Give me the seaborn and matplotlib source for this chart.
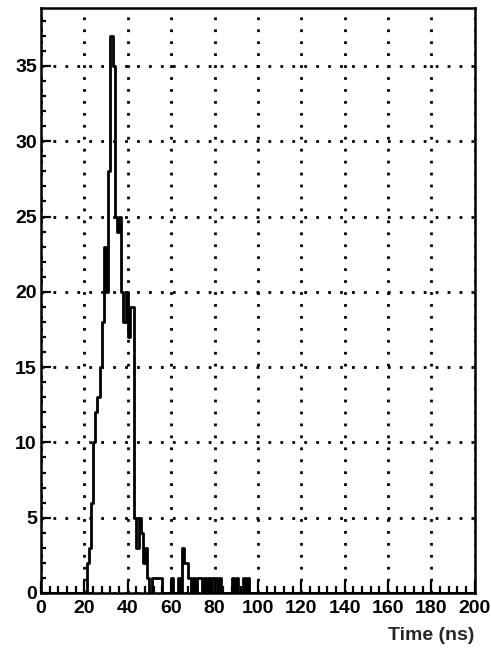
import matplotlib
matplotlib.use("Agg")  # headless
import matplotlib.pyplot as plt
import numpy as np
import pandas as pd
import seaborn as sns
from matplotlib.ticker import MultipleLocator

# ---------------------------------------------------------------------------
# Data: 1 ns bins from 0 to 200 ns, non-zero part
# ---------------------------------------------------------------------------
BIN_WIDTH = 1.0
X_RANGE = (0, 200)
FIRST_BIN = 20  # lower edge of the first listed bin (ns)
COUNTS = [
    0, 2, 3, 6, 10, 12, 13, 15, 18, 23,    # 20-29
    20, 28, 37, 35, 25, 24, 25, 20, 18, 20,  # 30-39
    17, 19, 19, 5, 3, 5, 4, 2, 3, 1,        # 40-49
    0, 1, 1, 1, 1, 1, 0, 0, 0, 0,           # 50-59
    1, 0, 0, 1, 0, 3, 2, 2, 1, 0,           # 60-69
    1, 0, 1, 1, 0, 1, 0, 1, 0, 1,           # 70-79
    1, 0, 1, 0, 0, 0, 0, 0, 1, 0,           # 80-89
    1, 0, 0, 1, 0, 1, 0, 0, 0, 0,           # 90-99
]
X_LABEL = "Time (ns)"

nbins = int((X_RANGE[1] - X_RANGE[0]) / BIN_WIDTH)
centers = X_RANGE[0] + BIN_WIDTH * (np.arange(nbins) + 0.5)
weights = np.zeros(nbins)
weights[FIRST_BIN:FIRST_BIN + len(COUNTS)] = COUNTS
df = pd.DataFrame({"t": centers, "n": weights})

sns.set_theme(style="white")
plt.rcParams["font.family"] = ["Liberation Sans", "DejaVu Sans"]
plt.rcParams["font.weight"] = "bold"

fig = plt.figure(figsize=(4.91, 6.5), dpi=100)
ax = fig.add_axes([0.0835, 0.0877, 0.8835, 0.9])

sns.histplot(
    data=df, x="t", weights="n", binwidth=BIN_WIDTH, binrange=X_RANGE,
    element="step", fill=False, color="black", linewidth=2.0, ax=ax,
)

ax.set_xlim(*X_RANGE)
ax.set_ylim(0, max(COUNTS) * 1.05)

ax.xaxis.set_major_locator(MultipleLocator(20))
ax.xaxis.set_minor_locator(MultipleLocator(4))
ax.yaxis.set_major_locator(MultipleLocator(5))
ax.yaxis.set_minor_locator(MultipleLocator(1))

ax.grid(True, which="major", color="black", linestyle=(0, (1, 3.3)),
        linewidth=2.0)
ax.set_axisbelow(True)

for s in ax.spines.values():
    s.set_visible(True)
    s.set_color("black")
    s.set_linewidth(1.8)

ax.tick_params(which="both", direction="in", colors="black",
               labelsize=14, width=1.6, top=False, right=False,
               bottom=True, left=True)
ax.tick_params(axis="x", which="major", length=9, pad=5)
ax.tick_params(axis="x", which="minor", length=5)
ax.tick_params(axis="y", which="major", length=7, pad=3)
ax.tick_params(axis="y", which="minor", length=3.5)
for lab in ax.get_xticklabels() + ax.get_yticklabels():
    lab.set_fontweight("bold")

ax.set_ylabel("")
ax.set_xlabel(X_LABEL, loc="right", fontsize=14, fontweight="bold",
              labelpad=7)

fig.savefig("out.png", dpi=100)
plt.close(fig)
